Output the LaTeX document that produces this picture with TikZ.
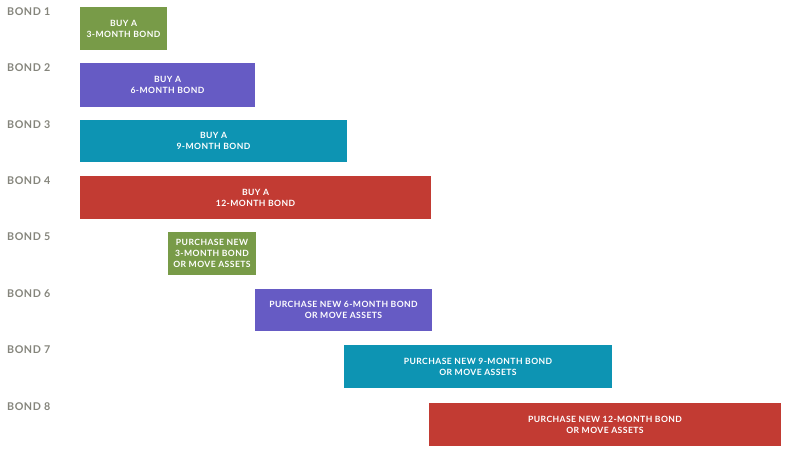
\documentclass[tikz,border=0pt]{standalone}
\usepackage{fontspec}
\setmainfont{Lato}[LetterSpace=5.0]
\definecolor{bgreen}{HTML}{789B48}
\definecolor{bpurple}{HTML}{665BC4}
\definecolor{bteal}{HTML}{0D94B3}
\definecolor{bred}{HTML}{C23B33}
\definecolor{lgray}{HTML}{85857C}
\begin{document}
\begin{tikzpicture}[x=1pt,y=-1pt,
  lbl/.style={anchor=west,text=lgray,font=\fontsize{10.7}{12}\selectfont\bfseries,inner sep=0pt},
  bar/.style={text=white,font=\fontsize{8.6}{11}\selectfont\bfseries,align=center,inner sep=0pt}]
\useasboundingbox (0,0) rectangle (796,449);
\foreach \i/\y in {1/12,2/68,3/125,4/181,5/237,6/294,7/350,8/407}
  \node[lbl] (l\i) at (7,\y) {BOND \i};
\fill[bgreen]  (80,7)   rectangle (167,50);
\fill[bpurple] (80,63)  rectangle (255,107);
\fill[bteal]   (80,120) rectangle (347,162);
\fill[bred]    (80,176) rectangle (431,219);
\fill[bgreen]  (168,232) rectangle (256,275);
\fill[bpurple] (255,289) rectangle (432,331);
\fill[bteal]   (344,345) rectangle (612,388);
\fill[bred]    (429,403) rectangle (781,446);
\node[bar] (t1) at (123.5,28.5) {BUY A\\3-MONTH BOND};
\node[bar] (t2) at (167.5,85) {BUY A\\6-MONTH BOND};
\node[bar] (t3) at (213.5,141) {BUY A\\9-MONTH BOND};
\node[bar] (t4) at (255.5,197.5) {BUY A\\12-MONTH BOND};
\node[bar] (t5) at (212,253.5) {PURCHASE NEW\\3-MONTH BOND\\OR MOVE ASSETS};
\node[bar] (t6) at (343.5,310) {PURCHASE NEW 6-MONTH BOND\\OR MOVE ASSETS};
\node[bar] (t7) at (478,366.5) {PURCHASE NEW 9-MONTH BOND\\OR MOVE ASSETS};
\node[bar] (t8) at (605,424.5) {PURCHASE NEW 12-MONTH BOND\\OR MOVE ASSETS};
\end{tikzpicture}
\end{document}
